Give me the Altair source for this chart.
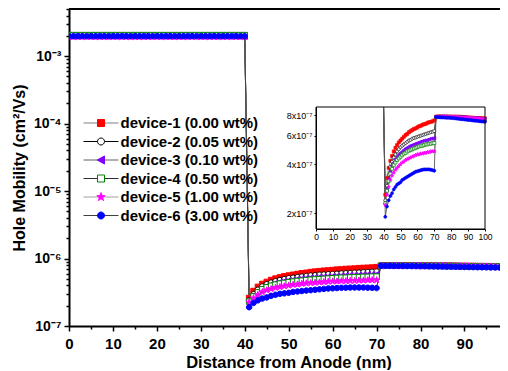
import math
import altair as alt
import pandas as pd

# ---------------- data ----------------
devices = [
    "device-1 (0.00 wt%)",
    "device-2 (0.05 wt%)",
    "device-3 (0.10 wt%)",
    "device-4 (0.50 wt%)",
    "device-5 (1.00 wt%)",
    "device-6 (3.00 wt%)",
]
fill_colors = ["#ff0000", "#ffffff", "#8000ff", "#ffffff", "#ff00ff", "#0000ff"]
edge_colors = ["#ff0000", "#000000", "#8000ff", "#008000", "#ff00ff", "#0000ff"]
line_colors = ["#808080", "#000000", "#606060", "#303030", "#a0a0a0", "#404040"]
marker_kind = ["square", "circle", "triangle", "square", "star", "circle"]

x_high = list(range(0, 41))       # nm, high-mobility layer
x_curve = list(range(41, 71))     # nm, doped layer
x_plateau = list(range(71, 101))  # nm, last layer

# mobility in the first layer (cm2/Vs)
high_level = [2.00e-3, 2.00e-3, 1.98e-3, 2.05e-3, 1.93e-3, 1.98e-3]

# mobility 41..70 nm, in units of 1e-7 cm2/Vs
curve = [
    [2.6, 3.3, 3.8, 4.2, 4.5, 4.8, 5.05, 5.25, 5.45, 5.6, 5.75, 5.9, 6.05, 6.15, 6.3,
     6.4, 6.5, 6.6, 6.65, 6.75, 6.85, 6.9, 7.0, 7.05, 7.1, 7.2, 7.25, 7.3, 7.35, 7.45],
    [2.4, 2.95, 3.45, 3.85, 4.15, 4.4, 4.6, 4.8, 4.95, 5.1, 5.2, 5.3, 5.4, 5.5, 5.6,
     5.65, 5.75, 5.8, 5.85, 5.9, 5.95, 6.0, 6.05, 6.1, 6.15, 6.2, 6.25, 6.3, 6.35, 6.4],
    [2.3, 2.8, 3.25, 3.6, 3.9, 4.1, 4.3, 4.45, 4.6, 4.7, 4.8, 4.9, 5.0, 5.05, 5.15,
     5.2, 5.25, 5.3, 5.35, 5.4, 5.45, 5.5, 5.55, 5.6, 5.6, 5.65, 5.7, 5.75, 5.75, 5.8],
    [2.3, 2.75, 3.15, 3.5, 3.75, 3.95, 4.1, 4.25, 4.35, 4.45, 4.55, 4.65, 4.7, 4.8, 4.85,
     4.9, 4.95, 5.0, 5.05, 5.1, 5.15, 5.2, 5.2, 5.25, 5.3, 5.3, 5.35, 5.35, 5.4, 5.4],
    [2.25, 2.6, 2.9, 3.2, 3.4, 3.55, 3.7, 3.8, 3.9, 4.0, 4.1, 4.15, 4.25, 4.3, 4.35,
     4.4, 4.45, 4.5, 4.55, 4.6, 4.6, 4.65, 4.65, 4.7, 4.7, 4.75, 4.75, 4.8, 4.8, 4.8],
    [1.9, 2.2, 2.4, 2.55, 2.65, 2.8, 2.9, 3.0, 3.05, 3.1, 3.2, 3.25, 3.3, 3.35, 3.4,
     3.45, 3.5, 3.55, 3.6, 3.62, 3.65, 3.68, 3.7, 3.72, 3.72, 3.72, 3.72, 3.7, 3.68, 3.65],
]

# mobility 71..100 nm, in units of 1e-7 cm2/Vs
plateau = [
    [7.85, 7.85, 7.86, 7.86, 7.86, 7.86, 7.86, 7.85, 7.85, 7.85, 7.85, 7.85, 7.85, 7.84, 7.84,
     7.83, 7.82, 7.8, 7.78, 7.76, 7.75, 7.74, 7.72, 7.71, 7.7, 7.69, 7.68, 7.67, 7.66, 7.65],
    [7.82, 7.83, 7.84, 7.84, 7.84, 7.84, 7.83, 7.83, 7.83, 7.82, 7.82, 7.81, 7.8, 7.8, 7.79,
     7.78, 7.77, 7.75, 7.74, 7.72, 7.71, 7.7, 7.68, 7.67, 7.66, 7.65, 7.64, 7.63, 7.62, 7.61],
    [7.8, 7.82, 7.83, 7.83, 7.83, 7.83, 7.82, 7.82, 7.81, 7.8, 7.8, 7.79, 7.78, 7.77, 7.76,
     7.75, 7.74, 7.72, 7.71, 7.69, 7.68, 7.67, 7.65, 7.64, 7.62, 7.61, 7.6, 7.58, 7.57, 7.56],
    [7.8, 7.81, 7.82, 7.82, 7.82, 7.82, 7.82, 7.81, 7.81, 7.8, 7.8, 7.79, 7.78, 7.77, 7.76,
     7.75, 7.74, 7.73, 7.71, 7.7, 7.68, 7.67, 7.65, 7.64, 7.62, 7.61, 7.6, 7.58, 7.57, 7.56],
    [7.84, 7.85, 7.86, 7.86, 7.86, 7.85, 7.85, 7.85, 7.84, 7.84, 7.83, 7.83, 7.82, 7.81, 7.8,
     7.79, 7.78, 7.77, 7.76, 7.74, 7.73, 7.72, 7.7, 7.69, 7.68, 7.66, 7.65, 7.63, 7.62, 7.61],
    [7.8, 7.8, 7.79, 7.77, 7.76, 7.75, 7.74, 7.73, 7.72, 7.7, 7.69, 7.67, 7.65, 7.63, 7.6,
     7.58, 7.56, 7.54, 7.52, 7.5, 7.48, 7.46, 7.44, 7.42, 7.4, 7.38, 7.36, 7.34, 7.32, 7.3],
]

main_y_ticks_major = [1e-7, 1e-6, 1e-5, 1e-4, 1e-3]
inset_y_ticks = [2e-7, 4e-7, 6e-7, 8e-7]
inset_x_ticks = [0, 10, 20, 30, 40, 50, 60, 70, 80, 90, 100]

# ---------------- table ----------------
rows = []
for i, dev in enumerate(devices):
    for x in x_high:
        rows.append({"device": dev, "x": x, "y": high_level[i]})
    for x, v in zip(x_curve, curve[i]):
        rows.append({"device": dev, "x": x, "y": v * 1e-7})
    for x, v in zip(x_plateau, plateau[i]):
        rows.append({"device": dev, "x": x, "y": v * 1e-7})
df = pd.DataFrame(rows)
df["line"] = df["device"]

# ---------------- marker shapes ----------------
def star_path():
    pts = []
    for k in range(10):
        ang = -math.pi / 2 + k * math.pi / 5
        r = 1.25 if k % 2 == 0 else 0.5
        pts.append(f"{r*math.cos(ang):.3f},{r*math.sin(ang):.3f}")
    return "M" + "L".join(pts) + "Z"

paths = {
    "square": "M-1,-1H1V1H-1Z",
    "circle": "M1,0A1,1,0,1,1,-1,0A1,1,0,1,1,1,0Z",
    "triangle": "M-1.1,0L1,-1.15L1,1.15Z",
    "star": star_path(),
}
shape_range = [paths[k] for k in marker_kind]

FONT = "Liberation Sans"
LEG_X, LEG_Y = 24.5, 106.5

legend_common = dict(
    title=None, orient="none", legendX=LEG_X, legendY=LEG_Y, padding=0,
    symbolSize=49, labelOffset=12, rowPadding=2.5,
    labelFont=FONT, labelFontSize=15, labelFontWeight="bold", labelColor="black",
)
legend_lines = alt.Legend(symbolType="M-5,0H5", symbolStrokeWidth=1, zindex=1, **legend_common)
legend_marks = alt.Legend(labelOpacity=0, symbolStrokeWidth=1, zindex=2, **legend_common)

# ---------------- layout ----------------
PX_PER_NM = 4.394
PLOT_W, PLOT_H = 431, 317
X_MAX = PLOT_W / PX_PER_NM          # right edge of the visible plot (nm)
IN_X0, IN_X1 = 247, 416
IN_Y0, IN_Y1 = 98, 220

# ---------------- main axes ----------------
sup = {"-7": "⁻⁷", "-6": "⁻⁶", "-5": "⁻⁵", "-4": "⁻⁴", "-3": "⁻³"}
lab = "''"
for e, s in sup.items():
    lab = f"round(log(datum.value)/LN10) == {e} ? '10{s}' : ({lab})"
is_major = "abs(log(datum.value)/LN10 - round(log(datum.value)/LN10)) < 0.001"
y_values = []
for m in main_y_ticks_major:
    for k in range(1, 10):
        v = float(f"{m * k:.3g}")
        if v <= 5e-3:
            y_values.append(v)

x_values = list(range(0, 100, 5))
x_major = "datum.value % 10 === 0"

xaxis = alt.Axis(
    values=x_values, title="Distance from Anode (nm)", grid=False,
    labelExpr=f"{x_major} ? datum.label : ''",
    tickSize={"condition": {"test": x_major, "value": 5}, "value": 3},
    labelFontSize={"condition": {"test": x_major, "value": 15}, "value": 0},
    labelFlush=False, labelOverlap=False, labelFont=FONT,
    labelFontWeight="bold", labelColor="black", labelPadding=5,
    titleFont=FONT, titleFontSize=16.5, titleFontWeight="bold", titleColor="black",
    titlePadding=3, titleX=PLOT_W / 2 + 4,
    domainColor="black", domainWidth=2, tickColor="black", tickWidth=1.5,
)
yaxis = alt.Axis(
    values=y_values, title="Hole Mobility (cm²/Vs)", grid=False,
    labelExpr=f"{is_major} ? ({lab}) : ''",
    tickSize={"condition": {"test": is_major, "value": 5}, "value": 3},
    labelFontSize={"condition": {"test": is_major, "value": 14}, "value": 0},
    labelOverlap=False, labelFont=FONT, labelFontWeight="bold",
    labelColor="black", labelPadding=3,
    titleFont=FONT, titleFontSize=16, titleFontWeight="bold", titleColor="black",
    titlePadding=6, domainColor="black", domainWidth=2, tickColor="black", tickWidth=1.5,
)

xs = alt.Scale(domain=[0, X_MAX], nice=False)
ys = alt.Scale(type="log", domain=[1e-7, 5e-3], nice=False)

fill_scale = alt.Scale(domain=devices, range=fill_colors)
edge_scale = alt.Scale(domain=devices, range=edge_colors)
shape_scale = alt.Scale(domain=devices, range=shape_range)
line_scale = alt.Scale(range=line_colors)

base = alt.Chart(df).encode(
    x=alt.X("x:Q", scale=xs, axis=xaxis),
    y=alt.Y("y:Q", scale=ys, axis=yaxis),
)
main_lines = base.mark_line(strokeWidth=1, clip=True).encode(
    color=alt.Color("line:N", scale=line_scale, legend=legend_lines),
    order="x:Q",
)
main_pts = base.mark_point(filled=True, size=30, strokeWidth=1, opacity=1, clip=True).encode(
    fill=alt.Fill("device:N", scale=fill_scale, legend=legend_marks),
    stroke=alt.Stroke("device:N", scale=edge_scale, legend=legend_marks),
    shape=alt.Shape("device:N", scale=shape_scale, legend=legend_marks),
)
# top frame line of the plot (the right edge lies outside the picture)
top_frame = alt.Chart(pd.DataFrame({"k": [0]})).mark_rule(color="black", strokeWidth=2).encode(
    x=alt.value(0), x2=alt.value(PLOT_W), y=alt.value(0)
)
main = alt.layer(main_lines, main_pts, top_frame)

# ---------------- inset ----------------
ixs = alt.Scale(domain=[0, 100], range=[IN_X0, IN_X1], nice=False)
iys = alt.Scale(type="log", domain=[1.6e-7, 9e-7], range=[IN_Y1, IN_Y0], nice=False, clamp=True)

inset_lab = "''"
for v in inset_y_ticks:
    d = int(round(v * 1e7))
    inset_lab = f"abs(datum.value - {v}) < 1e-9 ? '{d}x10⁻⁷' : ({inset_lab})"

ixaxis = alt.Axis(
    orient="bottom", offset=-(PLOT_H - IN_Y1), values=inset_x_ticks, title=None, grid=False,
    labelFlush=False, labelFont=FONT, labelFontSize=8.5, labelColor="black", labelPadding=1,
    tickSize=2, tickColor="black", tickWidth=1, domainColor="black", domainWidth=1,
)
iyaxis = alt.Axis(
    orient="left", offset=-IN_X0, values=inset_y_ticks, title=None, grid=False,
    labelExpr=inset_lab, labelFont=FONT, labelFontSize=9, labelColor="black", labelPadding=2,
    tickSize=2, tickColor="black", tickWidth=1, domainColor="black", domainWidth=1,
)

ibase = alt.Chart(df).encode(
    x=alt.X("x:Q", scale=ixs, axis=ixaxis),
    y=alt.Y("y:Q", scale=iys, axis=iyaxis),
)
inset_frame = alt.Chart(pd.DataFrame({"x": [0], "x2": [100], "y": [1.6e-7], "y2": [9e-7]})).mark_rect(
    fill=None, stroke="black", strokeWidth=1
).encode(
    x=alt.X("x:Q", scale=ixs, axis=ixaxis), x2="x2:Q",
    y=alt.Y("y:Q", scale=iys, axis=iyaxis), y2="y2:Q",
)
inset_lines = ibase.transform_filter("datum.x >= 40").mark_line(strokeWidth=0.8).encode(
    color=alt.Color("line:N", scale=line_scale, legend=None),
    order="x:Q",
)
inset_pts = ibase.transform_filter("datum.x >= 41").mark_point(
    filled=True, size=9, strokeWidth=0.7, opacity=1
).encode(
    fill=alt.Fill("device:N", scale=fill_scale, legend=None),
    stroke=alt.Stroke("device:N", scale=edge_scale, legend=None),
    shape=alt.Shape("device:N", scale=shape_scale, legend=None),
)
inset = alt.layer(inset_lines, inset_pts, inset_frame)

chart = alt.layer(main, inset).resolve_scale(x="independent", y="independent").properties(
    width=PLOT_W, height=PLOT_H,
    autosize=alt.AutoSizeParams(type="none"),
    padding={"left": 61, "top": 1, "right": 0, "bottom": 44},
).configure_view(stroke=None).configure(font=FONT)

chart.save("out.html", embed_options={"renderer": "svg", "actions": False})
